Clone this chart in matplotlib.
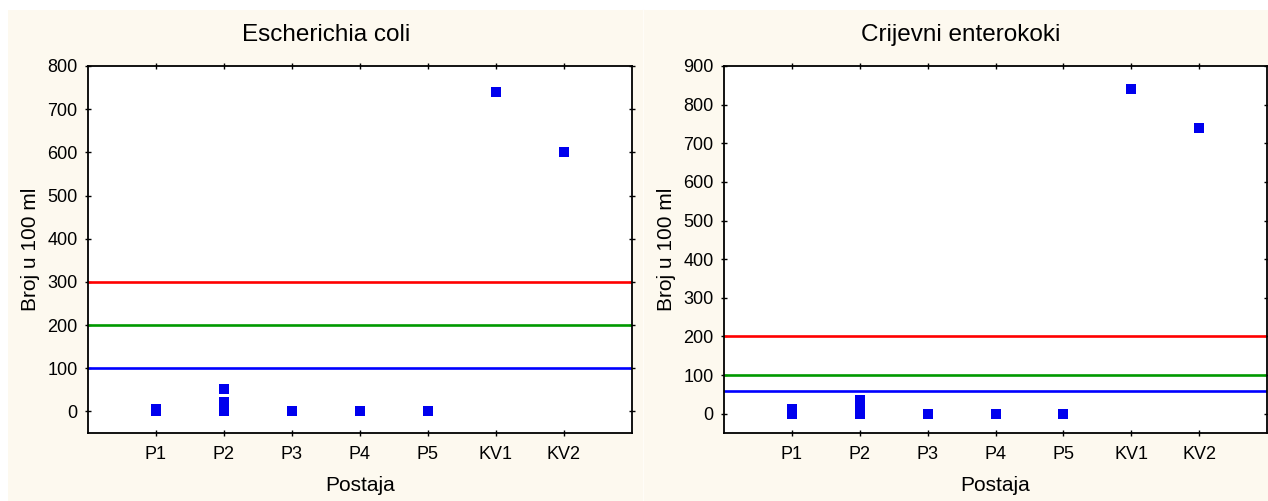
import matplotlib
matplotlib.use("Agg")
import matplotlib.pyplot as plt
from matplotlib.patches import Rectangle
from matplotlib.lines import Line2D

plt.rcParams['font.family'] = ['Liberation Sans', 'DejaVu Sans']

stations = ["P1", "P2", "P3", "P4", "P5", "KV1", "KV2"]

# Measured counts per 100 ml, one list per station
ecoli = [[0, 6], [0, 10, 22, 53], [0], [0, 2], [0], [740], [600]]
enterococci = [[0, 12], [0, 10, 20, 36], [0], [0], [0], [840], [740]]

# Reference limits (red, green, blue)
ecoli_limits = [300, 200, 100]
entero_limits = [200, 100, 60]
limit_colors = ["#ff0000", "#009900", "#0000ff"]

W, H = 1268, 501
fig = plt.figure(figsize=(W / 100, H / 100), dpi=100, facecolor="white")

cream = "#fdf9ef"
fig.patches.append(Rectangle((8 / W, 0), 1 - 8 / W, 1 - 10 / H,
                             transform=fig.transFigure, facecolor=cream,
                             edgecolor="none", zorder=-10))
fig.lines.append(Line2D([643 / W, 643 / W], [0, 1 - 10 / H],
                        transform=fig.transFigure, color="#fffdf8", lw=0.8,
                        zorder=-9))

bottom = (H - 433) / H
top = (H - 66) / H


def panel(x0, x1, title, data, limits, ymax, yticks, title_x):
    ax = fig.add_axes([x0 / W, bottom, (x1 - x0) / W, top - bottom])
    ax.set_facecolor("white")
    for lim, col in zip(limits, limit_colors):
        ax.axhline(lim, color=col, lw=1.9, zorder=2)
    xs, ys = [], []
    for i, vals in enumerate(data):
        for v in vals:
            xs.append(i + 1)
            ys.append(v)
    ax.plot(xs, ys, linestyle="none", marker="s", markersize=7,
            color="#0000ee", markeredgewidth=0, zorder=3)
    ax.set_xlim(0, len(stations) + 1)
    ax.set_ylim(-50, ymax)
    ax.set_xticks(range(1, len(stations) + 1))
    ax.set_xticklabels(stations)
    ax.set_yticks(yticks)
    ax.tick_params(direction="inout", length=5, width=1, labelsize=13,
                   top=True, right=True, pad=5)
    ax.tick_params(axis="x", pad=7)
    for s in ax.spines.values():
        s.set_linewidth(1.3)
    ax.set_xlabel("Postaja", fontsize=15, labelpad=9)
    ax.set_ylabel("Broj u 100 ml", fontsize=15, labelpad=5)
    fig.text(title_x / W, 1 - 35 / H, title, ha="center", va="center",
             fontsize=17.5)
    return ax


panel(88, 632, "Escherichia coli", ecoli, ecoli_limits, 800,
      range(0, 801, 100), 326)
panel(724, 1267, "Crijevni enterokoki", enterococci, entero_limits, 900,
      range(0, 901, 100), 961)

fig.savefig("out.png", dpi=100, facecolor=fig.get_facecolor())
